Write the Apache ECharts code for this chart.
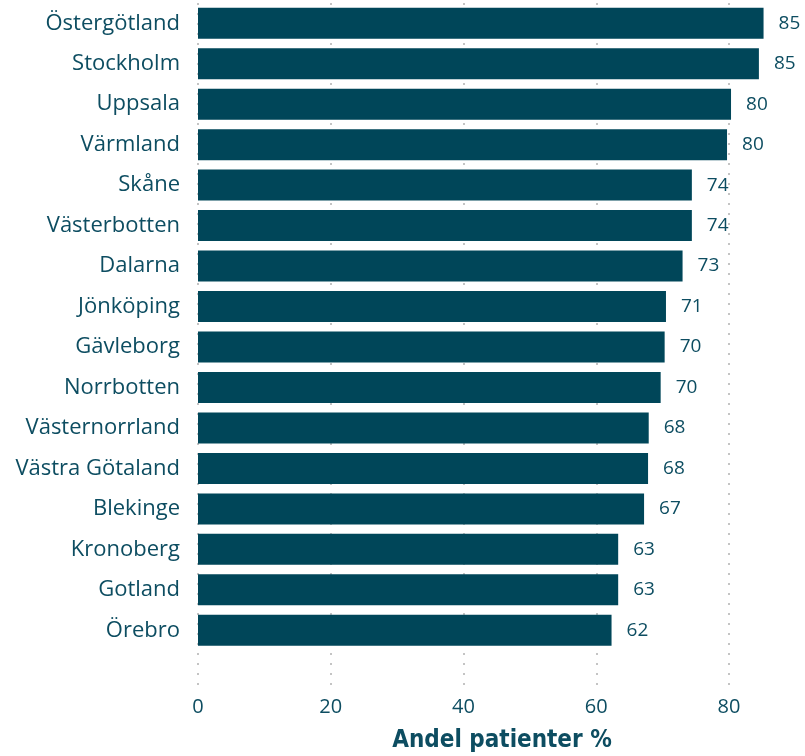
<!DOCTYPE html>
<html>
<head>
<meta charset="utf-8">
<script src="https://cdn.jsdelivr.net/npm/echarts@6/dist/echarts.min.js"></script>
<style>
html,body{margin:0;padding:0;background:#fff;}
#chart{width:805px;height:756px;}
</style>
</head>
<body>
<div id="chart"></div>
<script>
const categories = ["Östergötland","Stockholm","Uppsala","Värmland","Skåne","Västerbotten","Dalarna","Jönköping","Gävleborg","Norrbotten","Västernorrland","Västra Götaland","Blekinge","Kronoberg","Gotland","Örebro"];
const values = [85.2,84.5,80.3,79.7,74.4,74.4,73.0,70.5,70.3,69.7,67.9,67.8,67.2,63.3,63.3,62.3];
const xTicks = [0,20,40,60,80];
const axisTitle = "Andel patienter %";

const textColor = "#0d4d61";
const barColor = "#004659";

const chart = echarts.init(document.getElementById('chart'));
chart.setOption({
  animation: false,
  grid: {left: 198, width: 616, top: 3, height: 688, containLabel: false, outerBoundsMode: 'none'},
  xAxis: {
    type: 'value', min: 0, max: 92.8, interval: 20,
    name: axisTitle, nameLocation: 'middle', nameGap: 38,
    nameTextStyle: {fontFamily: 'DejaVu Sans Condensed', fontWeight: 'bold', fontSize: 24, color: textColor, padding: [0, 8, 0, 0]},
    axisLine: {show: false}, axisTick: {show: false},
    axisLabel: {fontFamily: 'Open Sans', fontSize: 20, color: textColor, margin: 6,
      formatter: v => xTicks.indexOf(v) >= 0 ? String(v) : ''},
    splitLine: {show: true, lineStyle: {color: '#c4c4c4', type: [2, 8], width: 2}}
  },
  yAxis: {
    type: 'category', data: categories, inverse: true, max: categories.length,
    axisLine: {show: false}, axisTick: {show: false},
    axisLabel: {fontFamily: 'Open Sans', fontSize: 22, color: textColor, margin: 18}
  },
  series: [{
    type: 'bar', data: values, barWidth: 31,
    itemStyle: {color: barColor},
    label: {show: true, position: 'right', distance: 15, fontFamily: 'Open Sans', fontSize: 19, color: textColor,
      formatter: p => Math.round(p.value)}
  }]
});
</script>
</body>
</html>
